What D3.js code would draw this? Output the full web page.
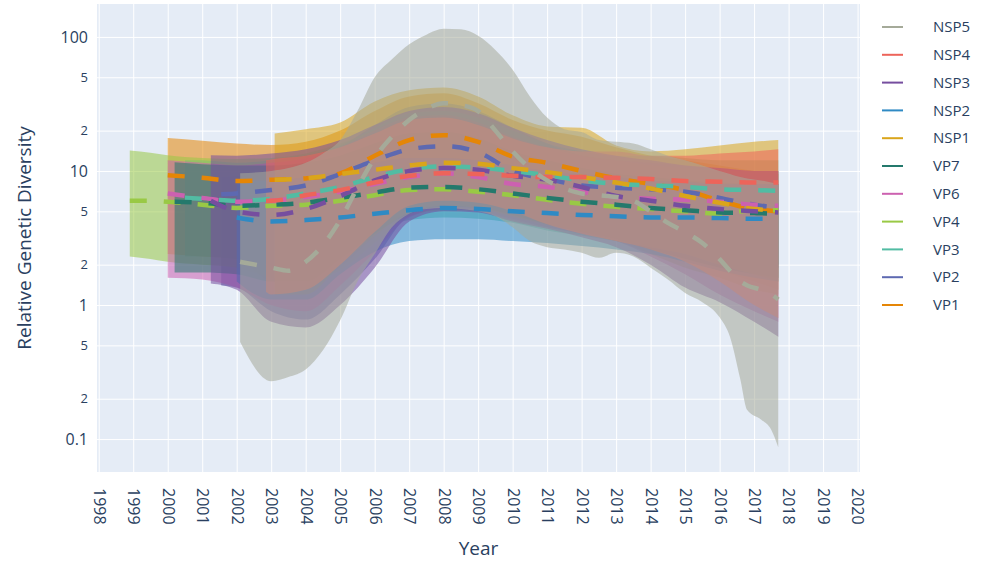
<!DOCTYPE html>
<html>
<head>
<meta charset="utf-8">
<script src="https://cdn.jsdelivr.net/npm/d3@7"></script>
<style>
  body { margin: 0; background: #fff; }
  text { font-family: "Open Sans", sans-serif; fill: #2a3f5f; }
</style>
</head>
<body>
<div id="chart"></div>
<script>
/* global d3 */

// Our canvas
const width = 984,
  height = 563
const plot = { left: 97, right: 860, top: 4, bottom: 472 }

// Tick labels
const yearTicks = [1998, 1999, 2000, 2001, 2002, 2003, 2004, 2005, 2006, 2007, 2008,
  2009, 2010, 2011, 2012, 2013, 2014, 2015, 2016, 2017, 2018, 2019, 2020]
const yTicks = [0.1, 0.2, 0.5, 1, 2, 5, 10, 20, 50, 100]
const yTickLabels = ['0.1', '2', '5', '1', '2', '5', '10', '2', '5', '100']

// Series, in drawing order (legend shows them reversed)
const names = ['VP1', 'VP2', 'VP3', 'VP4', 'VP6', 'VP7', 'NSP1', 'NSP2', 'NSP3', 'NSP4', 'NSP5']
const colors = ['rgb(229,134,6)', 'rgb(93,105,177)', 'rgb(82,188,163)', 'rgb(153,201,69)',
  'rgb(204,97,176)', 'rgb(36,121,108)', 'rgb(218,165,27)', 'rgb(47,138,196)',
  'rgb(118,78,159)', 'rgb(237,100,90)', 'rgb(165,170,153)']

const vp1Year = [2000, 2001, 2002, 2003, 2004, 2005, 2006, 2007, 2008, 2009, 2010, 2011, 2012, 2013, 2014, 2015, 2016, 2017, 2017.7]
const vp1Low = [2.4, 2.3, 2.2, 1.5, 1.4, 1.9, 3.2, 4.8, 5.3, 5.2, 4.6, 4.0, 3.6, 3.2, 2.6, 2.2, 1.8, 1.5, 1.3]
const vp1Mid = [9.3, 8.9, 8.4, 8.6, 8.8, 9.6, 13, 17, 18.5, 16.5, 12.8, 11.5, 10, 8.8, 8.0, 7.2, 6.0, 5.2, 5.0]
const vp1High = [17.6, 16.8, 16, 15.6, 16.5, 20, 28, 36, 38, 32, 24, 20, 18, 15, 13, 12, 11, 10, 9.5]

const vp2Year = [2001.55, 2002, 2003, 2004, 2005, 2006, 2007, 2008, 2009, 2010, 2011, 2012, 2013, 2014, 2015, 2016, 2017, 2017.7]
const vp2Low = [1.4, 1.35, 0.9, 0.78, 1.2, 2.2, 4.6, 5.2, 5.0, 4.4, 3.8, 3.4, 3.0, 2.6, 2.3, 2.1, 1.95, 1.9]
const vp2Mid = [6.7, 6.8, 7.2, 7.8, 9.5, 12, 14.5, 15.3, 13.8, 10, 8.7, 7.8, 7.5, 7.3, 7.0, 6.3, 5.6, 5.3]
const vp2High = [9, 9.2, 10, 11.5, 15, 22, 30, 32, 28, 21, 16, 13, 12, 11.5, 11, 10.5, 10, 10]

const vp3Year = [2000.5, 2001, 2002, 2003, 2004, 2005, 2006, 2007, 2008, 2009, 2010, 2011, 2012, 2013, 2014, 2015, 2016, 2017, 2017.7]
const vp3Low = [2.3, 2.3, 2.2, 1.9, 1.9, 2.6, 3.6, 4.3, 4.5, 4.4, 4.1, 3.6, 3.3, 3.0, 2.8, 2.6, 2.3, 2.1, 2.0]
const vp3Mid = [6.3, 6.2, 6.0, 6.2, 6.8, 7.6, 9.0, 10.3, 10.8, 10.6, 10, 9.3, 8.5, 8.0, 7.8, 7.6, 7.3, 7.2, 7.1]
const vp3High = [12, 12, 11.5, 12, 13, 15.5, 21, 27, 28, 25, 20, 16, 14, 13, 13, 12.5, 12, 12, 12]

const vp4Year = [1998.9, 1999.5, 2000, 2001, 2002, 2003, 2004, 2005, 2006, 2007, 2008, 2009, 2010, 2011, 2012, 2013, 2014, 2015, 2016, 2017, 2017.7]
const vp4Low = [2.3, 2.2, 2.1, 2.0, 1.9, 1.6, 1.5, 1.8, 2.9, 4.6, 5.1, 5.0, 4.5, 3.9, 3.4, 3.0, 2.4, 1.9, 1.6, 1.3, 1.2]
const vp4Mid = [6.0, 6.0, 5.9, 5.6, 5.3, 5.5, 5.6, 6.0, 6.6, 7.2, 7.3, 7.0, 6.6, 6.1, 5.7, 5.4, 5.2, 5.0, 4.8, 5.1, 5.1]
const vp4High = [14.2, 13.7, 13.1, 12.5, 12.3, 12.5, 13.5, 16, 20, 25, 26, 23, 18, 15, 13, 12, 11, 10.5, 10, 10, 10]

const vp6Year = [2000, 2001, 2002, 2003, 2004, 2005, 2006, 2007, 2008, 2009, 2010, 2011, 2012, 2013, 2014, 2015, 2016, 2017, 2017.7]
const vp6Low = [1.6, 1.55, 1.35, 1.0, 0.9, 1.4, 2.5, 4.5, 5.2, 5.0, 4.3, 3.8, 3.4, 3.0, 2.3, 1.7, 1.2, 0.9, 0.75]
const vp6Mid = [6.8, 6.3, 5.9, 6.0, 6.4, 7.0, 8.0, 9.0, 9.6, 9.0, 8.0, 7.6, 7.0, 6.4, 6.2, 6.1, 5.9, 5.6, 5.5]
const vp6High = [12, 11.5, 11, 11.5, 12.5, 15, 20, 25, 26, 23, 18, 15, 13, 12, 11.5, 11, 10.5, 10, 10]

const vp7Year = [2000.2, 2001, 2002, 2003, 2004, 2005, 2006, 2007, 2008, 2009, 2010, 2011, 2012, 2013, 2014, 2015, 2016, 2017, 2017.7]
const vp7Low = [1.75, 1.75, 1.7, 1.5, 1.5, 2.2, 3.4, 4.8, 5.4, 5.3, 4.7, 4.0, 3.5, 3.1, 2.6, 2.2, 1.9, 1.7, 1.6]
const vp7Mid = [5.9, 5.8, 5.5, 5.6, 5.8, 6.3, 6.9, 7.5, 7.6, 7.3, 6.8, 6.3, 5.9, 5.6, 5.3, 5.1, 4.9, 4.85, 4.8]
const vp7High = [11.6, 11.2, 11, 11, 11.5, 13, 16, 19, 19.5, 17.5, 14, 12, 10.5, 9.5, 9, 8.5, 8.2, 8, 8]

const nsp1Year = [2003.1, 2004, 2005, 2006, 2007, 2008, 2009, 2010, 2011, 2012, 2013, 2014, 2015, 2016, 2017, 2017.7]
const nsp1Low = [1.2, 1.2, 2.0, 3.3, 4.9, 5.5, 5.3, 4.6, 4.0, 3.5, 3.0, 2.7, 2.4, 2.0, 1.7, 1.5]
const nsp1Mid = [8.6, 8.8, 9.5, 10.2, 11, 11.5, 11.3, 10.5, 9.8, 9.0, 8.2, 7.4, 6.5, 5.8, 5.2, 5.1]
const nsp1High = [19, 20.5, 23, 33, 40, 42, 36, 26, 21.5, 21, 15.5, 14, 14.5, 15.5, 16.5, 17]

const nsp2Year = [2002, 2003, 2004, 2005, 2006, 2007, 2008, 2009, 2010, 2011, 2012, 2013, 2014, 2015, 2016, 2017, 2017.7]
const nsp2Low = [1.5, 1.1, 1.1, 1.7, 2.5, 3.0, 3.1, 3.1, 3.0, 2.9, 2.75, 2.6, 2.4, 2.1, 1.8, 1.6, 1.5]
const nsp2Mid = [4.5, 4.2, 4.3, 4.5, 4.8, 5.1, 5.3, 5.2, 5.0, 4.85, 4.7, 4.6, 4.5, 4.5, 4.45, 4.4, 4.4]
const nsp2High = [8.5, 8.5, 9, 10, 11.5, 12.5, 12.5, 12, 11, 10, 9.5, 9, 8.5, 8.3, 8, 8, 8]

const nsp3Year = [2001.25, 2002, 2003, 2004, 2005, 2006, 2007, 2008, 2009, 2010, 2011, 2012, 2013, 2014, 2015, 2016, 2017, 2017.7]
const nsp3Low = [1.45, 1.3, 0.75, 0.68, 1.0, 1.9, 4.2, 5.0, 4.9, 4.2, 3.7, 3.2, 2.7, 2.0, 1.35, 1.05, 0.75, 0.58]
const nsp3Mid = [6.0, 5.0, 4.7, 5.2, 6.5, 8.5, 10, 10.5, 10.2, 9.2, 8.6, 7.6, 6.5, 6.0, 5.5, 5.2, 5.0, 4.9]
const nsp3High = [13.1, 13, 13.5, 14.5, 17, 22, 28, 30, 27, 21, 17, 14.5, 13, 12, 11, 10.5, 10, 10]

const nsp4Year = [2002.85, 2003, 2004, 2005, 2006, 2007, 2008, 2009, 2010, 2011, 2012, 2013, 2014, 2015, 2016, 2017, 2017.7]
const nsp4Low = [1.25, 1.2, 1.3, 2.0, 3.5, 5.5, 6.0, 5.8, 5.0, 4.0, 3.4, 3.0, 2.6, 2.1, 1.5, 1.0, 0.8]
const nsp4Mid = [6.0, 6.0, 6.6, 7.2, 8.2, 9.2, 9.6, 9.5, 9.2, 9.0, 9.0, 8.9, 8.7, 8.4, 8.3, 8.2, 8.2]
const nsp4High = [12, 12.2, 13, 15, 19, 24, 25, 22, 17.5, 15, 14, 14, 13, 13, 13.5, 14, 14.5]

const nsp5Year = [2002.1, 2003, 2003.5, 2004, 2004.5, 2005, 2005.5, 2006, 2006.5, 2007, 2007.5, 2008,
  2008.5, 2009, 2009.5, 2010, 2010.5, 2011, 2011.5, 2012, 2012.5, 2013, 2013.5, 2014, 2014.5,
  2015, 2015.5, 2016, 2016.3, 2016.6, 2016.8, 2017.2, 2017.5, 2017.7]
const nsp5Low = [0.53, 0.27, 0.29, 0.33, 0.46, 0.77, 1.5, 2.4, 3.8, 4.8, 5.2, 5.3, 5.2, 5.0, 4.6, 3.8,
  3.0, 2.7, 2.6, 2.45, 2.25, 2.45, 2.3, 1.9, 1.55, 1.23, 1.05, 0.81, 0.58, 0.28, 0.165, 0.14, 0.117, 0.087]
const nsp5Mid = [2.1, 1.9, 1.8, 2.1, 2.8, 4.3, 7.5, 12.5, 18, 24, 29, 32, 31, 28, 20, 14, 10.5, 8.5, 7.4,
  6.8, 6.6, 6.4, 6.0, 5.0, 4.1, 3.5, 2.9, 2.2, 1.8, 1.5, 1.4, 1.3, 1.2, 1.1]
const nsp5High = [9.6, 10, 10.5, 11.5, 13.5, 17, 28, 50, 68, 88, 104, 115, 114, 102, 80, 57, 36, 25, 20.5,
  19.5, 17, 16.5, 16, 14.5, 13, 12, 11, 10, 9.5, 9, 8.8, 8.5, 8.2, 8]

const seriesYear = [vp1Year, vp2Year, vp3Year, vp4Year, vp6Year, vp7Year, nsp1Year, nsp2Year, nsp3Year, nsp4Year, nsp5Year]
const seriesLow = [vp1Low, vp2Low, vp3Low, vp4Low, vp6Low, vp7Low, nsp1Low, nsp2Low, nsp3Low, nsp4Low, nsp5Low]
const seriesMid = [vp1Mid, vp2Mid, vp3Mid, vp4Mid, vp6Mid, vp7Mid, nsp1Mid, nsp2Mid, nsp3Mid, nsp4Mid, nsp5Mid]
const seriesHigh = [vp1High, vp2High, vp3High, vp4High, vp6High, vp7High, nsp1High, nsp2High, nsp3High, nsp4High, nsp5High]

// build rows for each series
const series = names.map((name, i) => ({
  name: name,
  color: colors[i],
  rows: seriesYear[i].map((yr, j) => ({ year: yr, low: seriesLow[i][j], mid: seriesMid[i][j], high: seriesHigh[i][j] }))
}))

const xScale = d3.scaleLinear()
  .domain([1997.95, 2020.07])
  .range([plot.left, plot.right])

const yScale = d3.scaleLog()
  .domain([0.0568, 176])
  .range([plot.bottom, plot.top])

let svg = d3.select('#chart')
  .append('svg')
  .attr('width', width)
  .attr('height', height)

svg.append('rect')
  .attr('x', plot.left)
  .attr('y', plot.top)
  .attr('width', plot.right - plot.left)
  .attr('height', plot.bottom - plot.top)
  .attr('fill', '#e5ecf6')

// grid + axes
const axisB = d3.axisBottom(xScale)
  .tickValues(yearTicks)
  .tickFormat(d3.format('d'))
  .tickSizeInner(-(plot.bottom - plot.top))
  .tickSizeOuter(0)

const axisL = d3.axisLeft(yScale)
  .tickValues(yTicks)
  .tickFormat((d, i) => yTickLabels[i])
  .tickSizeInner(-(plot.right - plot.left))
  .tickSizeOuter(0)
  .tickPadding(9)

let gx = svg.append('g')
  .attr('transform', `translate(0,${plot.bottom})`)
  .call(axisB)
gx.select('.domain').remove()
gx.selectAll('line').attr('stroke', '#fff').attr('stroke-width', 1)
gx.selectAll('text')
  .attr('transform', 'rotate(90)')
  .attr('x', 16)
  .attr('y', 0)
  .attr('dy', '0.35em')
  .attr('text-anchor', 'start')
  .style('font-size', '16px')
  .attr('fill', '#2a3f5f')

let gy = svg.append('g')
  .attr('transform', `translate(${plot.left},0)`)
  .call(axisL)
gy.select('.domain').remove()
gy.selectAll('line').attr('stroke', '#fff').attr('stroke-width', 1)
gy.selectAll('text')
  .style('font-size', (d, i) => yTickLabels[i].length > 1 || d === 1 ? '16px' : '13px')
  .attr('fill', '#2a3f5f')

// bands
const area = d3.area()
  .curve(d3.curveMonotoneX)
  .x(d => xScale(d.year))
  .y0(d => yScale(d.low))
  .y1(d => yScale(d.high))

const line = d3.line()
  .curve(d3.curveMonotoneX)
  .x(d => xScale(d.year))
  .y(d => yScale(d.mid))

svg.append('g')
  .selectAll('path')
  .data(series)
  .enter()
  .append('path')
  .attr('d', d => area(d.rows))
  .attr('fill', d => d.color)
  .attr('fill-opacity', 0.55)

svg.append('g')
  .selectAll('path')
  .data(series)
  .enter()
  .append('path')
  .attr('d', d => line(d.rows))
  .attr('fill', 'none')
  .attr('stroke', d => d.color)
  .attr('stroke-width', 4.5)
  .attr('stroke-dasharray', '17,17')

// legend
const legend = svg.append('g')
  .selectAll('g')
  .data(series.slice().reverse())
  .enter()
  .append('g')
  .attr('transform', (d, i) => `translate(882,${27 + i * 27.8})`)

legend.append('line')
  .attr('x1', 0).attr('x2', 21)
  .attr('stroke', d => d.color)
  .attr('stroke-width', 2)

legend.append('text')
  .attr('x', 51)
  .attr('dy', '0.35em')
  .style('font-size', '15px')
  .text(d => d.name)

// titles
svg.append('text')
  .attr('x', (plot.left + plot.right) / 2)
  .attr('y', 548)
  .attr('text-anchor', 'middle')
  .attr('dy', '0.35em')
  .style('font-size', '19px')
  .text('Year')

svg.append('text')
  .attr('transform', `translate(24,${(plot.top + plot.bottom) / 2}) rotate(-90)`)
  .attr('text-anchor', 'middle')
  .attr('dy', '0.35em')
  .style('font-size', '19px')
  .text('Relative Genetic Diversity')
</script>
</body>
</html>
